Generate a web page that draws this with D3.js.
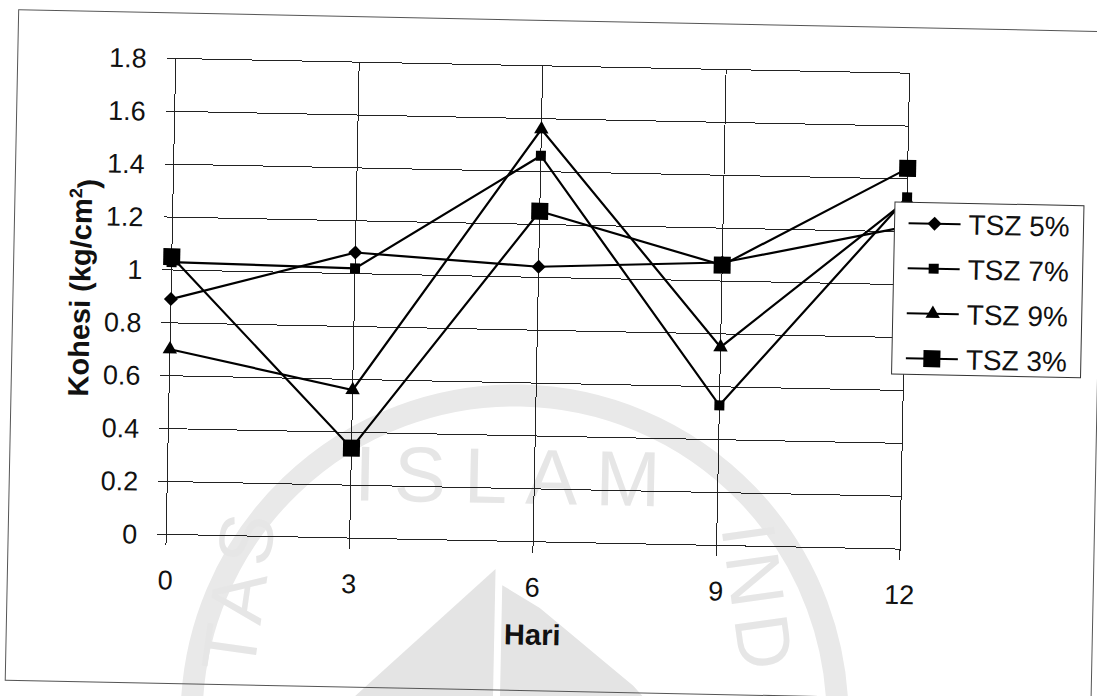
<!DOCTYPE html>
<html>
<head>
<meta charset="utf-8">
<script src="https://cdn.jsdelivr.net/npm/d3@7"></script>
<style>
  html, body { margin: 0; padding: 0; background: #fff; }
  svg { display: block; }
  text { font-family: "Liberation Sans", Arial, sans-serif; fill: #111; }
</style>
</head>
<body>
<svg id="chart" width="1097" height="696"></svg>
<script>
// Kohesi per hari untuk tiap kadar TSZ
const days = [0, 3, 6, 9, 12];
const yTicks = [0, 0.2, 0.4, 0.6, 0.8, 1, 1.2, 1.4, 1.6, 1.8];
const yTickLabels = ["0", "0.2", "0.4", "0.6", "0.8", "1", "1.2", "1.4", "1.6", "1.8"];
const xTickLabels = ["0", "3", "6", "9", "12"];
const seriesNames = ["TSZ 5%", "TSZ 7%", "TSZ 9%", "TSZ 3%"];
const tsz5 = [0.89, 1.08, 1.04, 1.07, 1.22];
const tsz7 = [1.03, 1.02, 1.46, 0.53, 1.33];
const tsz9 = [0.70, 0.56, 1.56, 0.75, 1.32];
const tsz3 = [1.05, 0.34, 1.25, 1.06, 1.44];
const seriesValues = [tsz5, tsz7, tsz9, tsz3];

const svg = d3.select("#chart");
svg.append("rect").attr("width", 1097).attr("height", 696).attr("fill", "#fff");

// the scanned page sits slightly tilted
const page = svg.append("g").attr("transform", "rotate(1.15 548 348)");

// faint seal in the background
const wm = page.append("g").attr("fill", "#e7e7e7").attr("stroke", "none");
wm.append("circle").attr("cx", 522).attr("cy", 719).attr("r", 323)
  .attr("fill", "none").attr("stroke", "#e9e9e9").attr("stroke-width", 22);
wm.append("text").attr("x", 519).attr("y", 504).attr("text-anchor", "middle")
  .style("font-size", "78px").style("letter-spacing", "18px").style("fill", "#e6e6e6").text("ISLAM");
wm.append("text").attr("transform", "translate(270,598) rotate(-83)").attr("text-anchor", "middle")
  .style("font-size", "76px").style("letter-spacing", "8px").style("fill", "#e6e6e6").text("TAS");
wm.append("text").attr("transform", "translate(737,600) rotate(81)").attr("text-anchor", "middle")
  .style("font-size", "76px").style("letter-spacing", "8px").style("fill", "#e6e6e6").text("IND");
wm.append("path").attr("d", "M500,570 L500,700 L362,700 Z").attr("fill", "#e4e4e4");
wm.append("path").attr("d", "M507,586 L545,608 L575,632 L610,660 L640,684 L655,700 L507,700 Z").attr("fill", "#e4e4e4");

// outer frame
page.append("rect").attr("x", 12).attr("y", 20.5).attr("width", 1086).attr("height", 670.5)
  .attr("fill", "none").attr("stroke", "#555").attr("stroke-width", 1);

const x = d3.scaleLinear().domain([0, 12]).range([170, 904]);
const y = d3.scaleLinear().domain([0, 1.8]).range([542, 66]);

// gridlines with their tick stubs
const grid = page.append("g").attr("stroke", "#222").attr("stroke-width", 1).attr("shape-rendering", "crispEdges");
grid.selectAll("line.h").data(yTicks).join("line").attr("class", "h")
  .attr("x1", x(0) - 9).attr("x2", x(12)).attr("y1", d => y(d)).attr("y2", d => y(d));
grid.selectAll("line.v").data(days).join("line").attr("class", "v")
  .attr("x1", d => x(d)).attr("x2", d => x(d)).attr("y1", y(1.8)).attr("y2", y(0) + 11);

// tick labels
page.append("g").selectAll("text").data(yTicks).join("text")
  .attr("x", 141).attr("y", d => y(d)).attr("dy", "0.36em").attr("text-anchor", "end")
  .style("font-size", "27px").text((d, i) => yTickLabels[i]);
page.append("g").selectAll("text").data(days).join("text")
  .attr("x", d => x(d)).attr("y", 597).attr("text-anchor", "middle")
  .style("font-size", "27px").text((d, i) => xTickLabels[i]);

// axis titles
page.append("text").attr("x", 538).attr("y", 645).attr("text-anchor", "middle")
  .style("font-size", "29px").style("font-weight", "bold").text("Hari");
const yTitle = page.append("text").attr("transform", "translate(89,297) rotate(-90)")
  .attr("text-anchor", "middle").style("font-size", "29px").style("font-weight", "bold");
yTitle.append("tspan").text("Kohesi (kg/cm");
yTitle.append("tspan").attr("dy", "-0.55em").style("font-size", "18px").text("2");
yTitle.append("tspan").attr("dy", "0.55em").text(")");

// marker shapes
const diamond = { draw(ctx, size) { const r = Math.sqrt(size / 2); ctx.moveTo(0, -r); ctx.lineTo(r, 0); ctx.lineTo(0, r); ctx.lineTo(-r, 0); ctx.closePath(); } };
const markerTypes = [diamond, d3.symbolSquare, d3.symbolTriangle, d3.symbolSquare];
const markerSizes = [98, 100, 90, 289];

const line = d3.line().x((d, i) => x(days[i])).y(d => y(d));
const plot = page.append("g");
seriesValues.forEach((vals, s) => {
  const g = plot.append("g");
  g.append("path").attr("d", line(vals)).attr("fill", "none").attr("stroke", "#000")
    .attr("stroke-width", 2.2).attr("stroke-linejoin", "miter");
  g.selectAll("path.m").data(vals).join("path").attr("class", "m")
    .attr("transform", (d, i) => `translate(${x(days[i])},${y(d)})`)
    .attr("d", d3.symbol().type(markerTypes[s]).size(markerSizes[s])())
    .attr("fill", "#000");
});

// legend
const lg = page.append("g");
lg.append("rect").attr("x", 892).attr("y", 195).attr("width", 189).attr("height", 172)
  .attr("fill", "#fff").attr("stroke", "#333").attr("stroke-width", 1);
seriesNames.forEach((name, s) => {
  const cy = 216 + s * 45;
  lg.append("line").attr("x1", 906).attr("x2", 958).attr("y1", cy).attr("y2", cy)
    .attr("stroke", "#000").attr("stroke-width", 2);
  lg.append("path").attr("transform", `translate(932,${cy})`)
    .attr("d", d3.symbol().type(markerTypes[s]).size(markerSizes[s])()).attr("fill", "#000");
  lg.append("text").attr("x", 966).attr("y", cy).attr("dy", "0.36em")
    .style("font-size", "28px").text(name);
});
</script>
</body>
</html>
